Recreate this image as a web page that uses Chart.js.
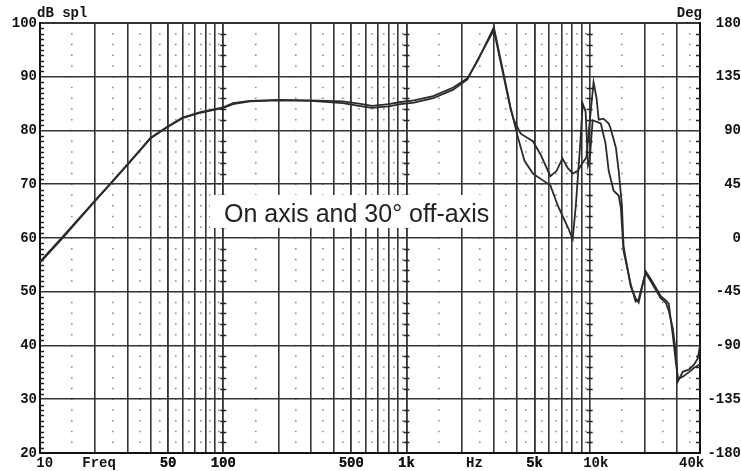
<!DOCTYPE html>
<html>
<head>
<meta charset="utf-8">
<script src="https://cdn.jsdelivr.net/npm/chart.js@4.4.0/dist/chart.umd.min.js"></script>
<style>
  html, body { margin: 0; padding: 0; background: #fff; }
  #wrap { width: 741px; height: 471px; }
</style>
</head>
<body>
<div id="wrap"><canvas id="chart1" width="741" height="471"></canvas></div>
<script>
// On axis response (Hz / dB spl)
var onFreq = [10, 13.2, 20, 24, 30, 35, 40, 49, 60, 75,
  100, 113, 140, 200, 300, 450, 550, 650, 800, 930,
  1100, 1400, 1800, 2150, 2450, 3000, 3700, 3850, 4040, 4400,
  4900, 5400, 6100, 6700, 7600, 8075, 8400, 8900, 9160, 9500,
  9800, 10000, 10380, 11500, 12200, 12700, 13500, 14400, 14800, 15300,
  16750, 17800, 18500, 20200, 21500, 24400, 26000, 27000, 28400, 29500,
  30300, 32200, 34700, 37000, 38900, 40000];
var onSpl = [55.6, 60.1, 67.0, 70.0, 73.7, 76.3, 78.6, 80.6, 82.4, 83.4,
  84.3, 85.1, 85.5, 85.7, 85.6, 85.4, 85.0, 84.6, 84.9, 85.3,
  85.6, 86.4, 88.0, 89.7, 93.0, 99.2, 84.3, 81.9, 79.0, 74.4,
  72.0, 71.0, 69.8, 66.0, 62.0, 59.8, 66.0, 78.0, 85.0, 83.5,
  73.5, 74.5, 81.9, 81.3, 77.6, 72.5, 68.8, 67.9, 65.6, 57.6,
  51.4, 48.2, 48.6, 53.5, 52.0, 48.8, 48.0, 46.5, 43.2, 38.9,
  33.3, 35.1, 35.5, 36.4, 37.6, 40.0];

// 30 degree off-axis response
var offFreq = [10, 13.2, 20, 24, 30, 35, 40, 49, 60, 75,
  100, 113, 140, 200, 300, 450, 550, 650, 800, 930,
  1100, 1400, 1800, 2150, 2450, 3000, 3700, 3850, 4200, 4900,
  5400, 6100, 6600, 7100, 7600, 8100, 8600, 9160, 9600, 9900,
  10500, 10900, 11200, 11900, 12700, 13000, 13900, 14400, 15000, 15300,
  16750, 17800, 18500, 20200, 21500, 24400, 26000, 27000, 28400, 29500,
  30300, 32200, 34700, 37000, 40000];
var offSpl = [55.4, 59.9, 66.9, 69.9, 73.6, 76.2, 78.5, 80.5, 82.3, 83.3,
  84.2, 84.9, 85.4, 85.6, 85.5, 85.1, 84.6, 84.2, 84.5, 84.9,
  85.2, 86.0, 87.6, 89.5, 93.2, 98.7, 84.0, 82.0, 79.4, 78.0,
  75.5, 71.5, 72.5, 74.8, 73.0, 72.0, 72.5, 74.0, 75.0, 80.0,
  89.0, 86.0, 82.0, 82.2, 81.3, 80.4, 76.8, 72.5, 66.0, 58.5,
  51.0, 48.8, 48.0, 53.8, 52.4, 49.2, 48.4, 47.8, 42.0, 37.0,
  33.8, 34.2, 35.0, 35.8, 36.5];

// solid frequency grid lines
var gridFreqs = [10, 20, 30, 40, 50, 60, 70, 80, 90, 100,
  200, 300, 400, 500, 600, 700, 800, 900, 1000,
  2000, 3000, 4000, 5000, 6000, 7000, 8000, 9000, 10000,
  20000, 30000, 40000];
// dotted columns between them
var dotFreqs = [15, 25, 35, 45, 55, 65, 75, 85, 95,
  150, 250, 350, 450, 550, 650, 750, 850, 950,
  1500, 2500, 3500, 4500, 5500, 6500, 7500, 8500, 9500,
  15000, 25000, 35000];
// lines that carry the small cross ticks
var decadeFreqs = [100, 1000, 10000];
// frequency axis labels
var labelFreqs = [10.6, 21, 50, 100, 500, 1000, 2350, 5000, 10800, 36000];
var labelTexts = ['10', 'Freq', '50', '100', '500', '1k', 'Hz', '5k', '10k', '40k'];

var tickFont = { family: '"Liberation Mono", "DejaVu Sans Mono", monospace', size: 14, weight: 'bold' };

function toPoints(xs, ys) {
    return xs.map(function(f, i) { return { x: f, y: ys[i] }; });
}

// grid extras: small ticks, annotation box, corner titles
var extrasPlugin = {
    id: 'extras',
    beforeDatasetsDraw: function(chart) {
        var ctx = chart.ctx;
        var x = chart.scales.x;
        var y = chart.scales.y;
        var area = chart.chartArea;
        ctx.save();
        ctx.strokeStyle = '#222';
        ctx.lineWidth = 1.3;
        ctx.beginPath();
        for (var db = 21; db < 100; db++) {
            if (db % 10 === 0) continue;
            var py = Math.round(y.getPixelForValue(db)) + 0.5;
            ctx.moveTo(area.left, py);
            ctx.lineTo(area.left + 4, py);
            if (db % 2 === 0) {
                decadeFreqs.forEach(function(f) {
                    var px = x.getPixelForValue(f);
                    ctx.moveTo(px - 3, py);
                    ctx.lineTo(px + 3, py);
                });
                ctx.moveTo(area.right - 4, py);
                ctx.lineTo(area.right, py);
            }
        }
        ctx.stroke();

        // white box with the caption
        ctx.fillStyle = '#fff';
        ctx.fillRect(210, 195, 280, 33);
        ctx.fillStyle = '#222';
        ctx.font = '25px "Liberation Sans", Arial, sans-serif';
        ctx.textBaseline = 'alphabetic';
        ctx.fillText('On axis and 30\u00b0 off-axis', 224, 222);
        ctx.restore();
    },
    afterDraw: function(chart) {
        var ctx = chart.ctx;
        var area = chart.chartArea;
        ctx.save();
        ctx.fillStyle = '#111';
        ctx.font = 'bold 14px "Liberation Mono", "DejaVu Sans Mono", monospace';
        ctx.textBaseline = 'alphabetic';
        ctx.textAlign = 'left';
        ctx.fillText('dB spl', area.left - 3, 17);
        ctx.textAlign = 'right';
        ctx.fillText('Deg', area.right + 2, 17);
        ctx.restore();
    }
};

document.addEventListener('DOMContentLoaded', function() {
    var ctx1 = document.getElementById('chart1').getContext('2d');
    var responseChart = new Chart(ctx1, {
        type: 'line',
        data: {
            datasets: [{
                label: 'On axis',
                data: toPoints(onFreq, onSpl),
                borderColor: '#2b2b2b',
                borderWidth: 1.8,
                pointRadius: 0,
                fill: false,
                tension: 0
            }, {
                label: '30\u00b0 off-axis',
                data: toPoints(offFreq, offSpl),
                borderColor: '#2b2b2b',
                borderWidth: 1.8,
                pointRadius: 0,
                fill: false,
                tension: 0
            }]
        },
        options: {
            responsive: false,
            animation: false,
            layout: { padding: { top: 23, left: 0, right: 0, bottom: 0 } },
            plugins: {
                legend: { display: false },
                tooltip: { enabled: false }
            },
            scales: {
                x: {
                    type: 'logarithmic',
                    position: 'bottom',
                    min: 10,
                    max: 40000,
                    afterBuildTicks: function(scale) {
                        var vals = gridFreqs.concat(labelFreqs).sort(function(a, b) { return a - b; });
                        scale.ticks = vals.map(function(v) { return { value: v }; });
                    },
                    afterFit: function(scale) { scale.height = 18; },
                    ticks: {
                        autoSkip: false,
                        maxRotation: 0,
                        padding: 2,
                        color: '#111',
                        font: tickFont,
                        callback: function(value) {
                            var i = labelFreqs.indexOf(value);
                            return i >= 0 ? labelTexts[i] : '';
                        }
                    },
                    grid: {
                        drawTicks: false,
                        lineWidth: 1.6,
                        color: function(c) {
                            return (c.tick && gridFreqs.indexOf(c.tick.value) >= 0) ? '#333' : 'rgba(0,0,0,0)';
                        }
                    },
                    border: { display: true, color: '#111', width: 2 }
                },
                xd: {
                    type: 'logarithmic',
                    position: 'bottom',
                    min: 10,
                    max: 40000,
                    afterBuildTicks: function(scale) {
                        scale.ticks = dotFreqs.map(function(v) { return { value: v }; });
                    },
                    afterFit: function(scale) { scale.height = 0; },
                    ticks: { display: false },
                    grid: { drawTicks: false, color: '#8a8a8a', lineWidth: 1.6 },
                    border: { display: false, dash: [1.6, 9.15], dashOffset: 0.8 }
                },
                y: {
                    position: 'left',
                    min: 20,
                    max: 100,
                    afterFit: function(scale) { scale.width = 40; },
                    ticks: { stepSize: 10, padding: 3, color: '#111', font: tickFont },
                    grid: {
                        drawTicks: false,
                        color: '#333',
                        lineWidth: function(c) {
                            return (c.tick && (c.tick.value === 100 || c.tick.value === 20)) ? 2 : 1.6;
                        }
                    },
                    border: { display: true, color: '#111', width: 2 }
                },
                y2: {
                    position: 'right',
                    min: -180,
                    max: 180,
                    afterFit: function(scale) { scale.width = 41; },
                    ticks: { stepSize: 45, padding: 3, crossAlign: 'far', color: '#111', font: tickFont },
                    grid: { drawOnChartArea: false, drawTicks: false },
                    border: { display: true, color: '#111', width: 2 }
                }
            }
        },
        plugins: [extrasPlugin]
    });
});
</script>
</body>
</html>
